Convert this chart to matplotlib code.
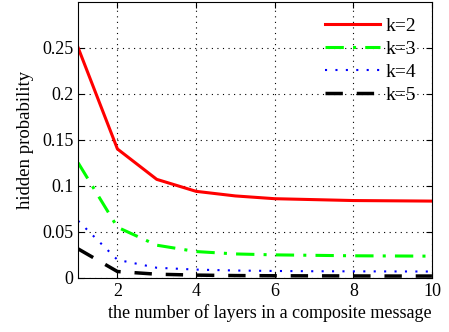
import matplotlib
matplotlib.use("Agg")
import matplotlib.pyplot as plt

plt.rcParams['font.family'] = ['Liberation Serif', 'DejaVu Serif']

# antall lag
layers = [1, 2, 3, 4, 5, 6, 7, 8, 9, 10]

# skjult sannsynlighet for hver k
k2 = [0.25, 0.140, 0.107, 0.094, 0.089, 0.086, 0.085, 0.084, 0.0837, 0.0834]
k3 = [0.125, 0.055, 0.0355, 0.0286, 0.026, 0.025, 0.0245, 0.024, 0.0238, 0.0236]
k4 = [0.062, 0.0196, 0.011, 0.009, 0.008, 0.0075, 0.0072, 0.0071, 0.007, 0.0069]
k5 = [0.0315, 0.0069, 0.004, 0.003, 0.0025, 0.0023, 0.0022, 0.0021, 0.002, 0.002]

labels = ['k=2', 'k=3', 'k=4', 'k=5']

fig = plt.figure(figsize=(4.49, 3.32), dpi=100)
ax = fig.add_axes([0.174, 0.163, 0.788, 0.832])

ax.plot(layers, k2, color='#ff0000', linestyle='-', linewidth=2.2, label=labels[0])
ax.plot(layers, k3, color='#00ff00', linestyle=(0, (6, 3, 1, 3)), linewidth=2.2, label=labels[1])
ax.plot(layers, k4, color='#0000ff', linestyle=(0, (1, 4)), linewidth=1.5, label=labels[2])
ax.plot(layers, k5, color='black', linestyle=(0, (5, 4)), linewidth=2.5, label=labels[3])

ax.set_xlim(1, 10)
ax.set_ylim(0, 0.3)
ax.set_xticks([2, 4, 6, 8, 10])
ax.set_yticks([0, 0.05, 0.1, 0.15, 0.2, 0.25])
ax.set_yticklabels(['0', '0.05', '0.1', '0.15', '0.2', '0.25'])
ax.tick_params(direction='in', top=True, right=True, labelsize=13, length=4)
ax.grid(True, color='black', linestyle=(0, (1, 4)), linewidth=0.8)

ax.set_xlabel('the number of layers in a composite message', fontsize=13)
ax.xaxis.set_label_coords(0.542, -0.095)
ax.set_ylabel('hidden probability', fontsize=13.5, labelpad=6)

ax.legend(loc='upper right', frameon=False, fontsize=14, handlelength=2.8,
          handletextpad=0.3, labelspacing=0.28, borderaxespad=0.4)

fig.savefig('out.png', dpi=100)
